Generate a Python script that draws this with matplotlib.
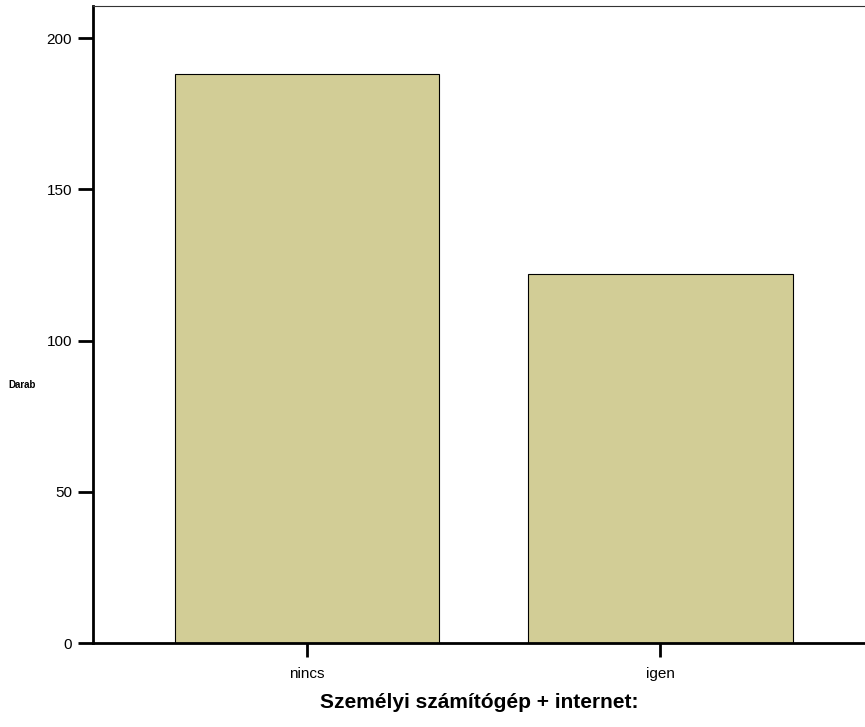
import matplotlib.pyplot as plt

categories = ['nincs', 'igen']
counts = [188, 122]
yticks = [0, 50, 100, 150, 200]

plt.rcParams['font.family'] = ['Liberation Sans', 'DejaVu Sans']

fig = plt.figure(figsize=(8.65, 7.27), dpi=100)
ax = fig.add_axes([0.1075, 0.1155, 0.8925, 0.8762])

ax.bar(range(len(categories)), counts, width=0.75, color='#d2cd96',
       edgecolor='black', linewidth=0.8)

ax.set_xlim(-0.606, 1.58)
ax.set_ylim(0, 210.6)
ax.set_yticks(yticks)
ax.set_xticks(range(len(categories)))
ax.set_xticklabels(categories)

ax.spines['left'].set_linewidth(2)
ax.spines['bottom'].set_linewidth(2)
ax.spines['top'].set_linewidth(0.8)
ax.spines['top'].set_color('#333333')
ax.spines['right'].set_visible(False)

ax.tick_params(axis='y', length=11, width=2, labelsize=11, pad=4)
ax.tick_params(axis='x', length=10, width=2, labelsize=11, pad=7)

ax.set_xlabel('Személyi számítógép + internet:', fontsize=15, fontweight='bold', labelpad=9)
fig.text(0.025, 0.47, 'Darab', fontsize=7, fontweight='bold', ha='center', va='center')

fig.savefig('out.png', dpi=100)
